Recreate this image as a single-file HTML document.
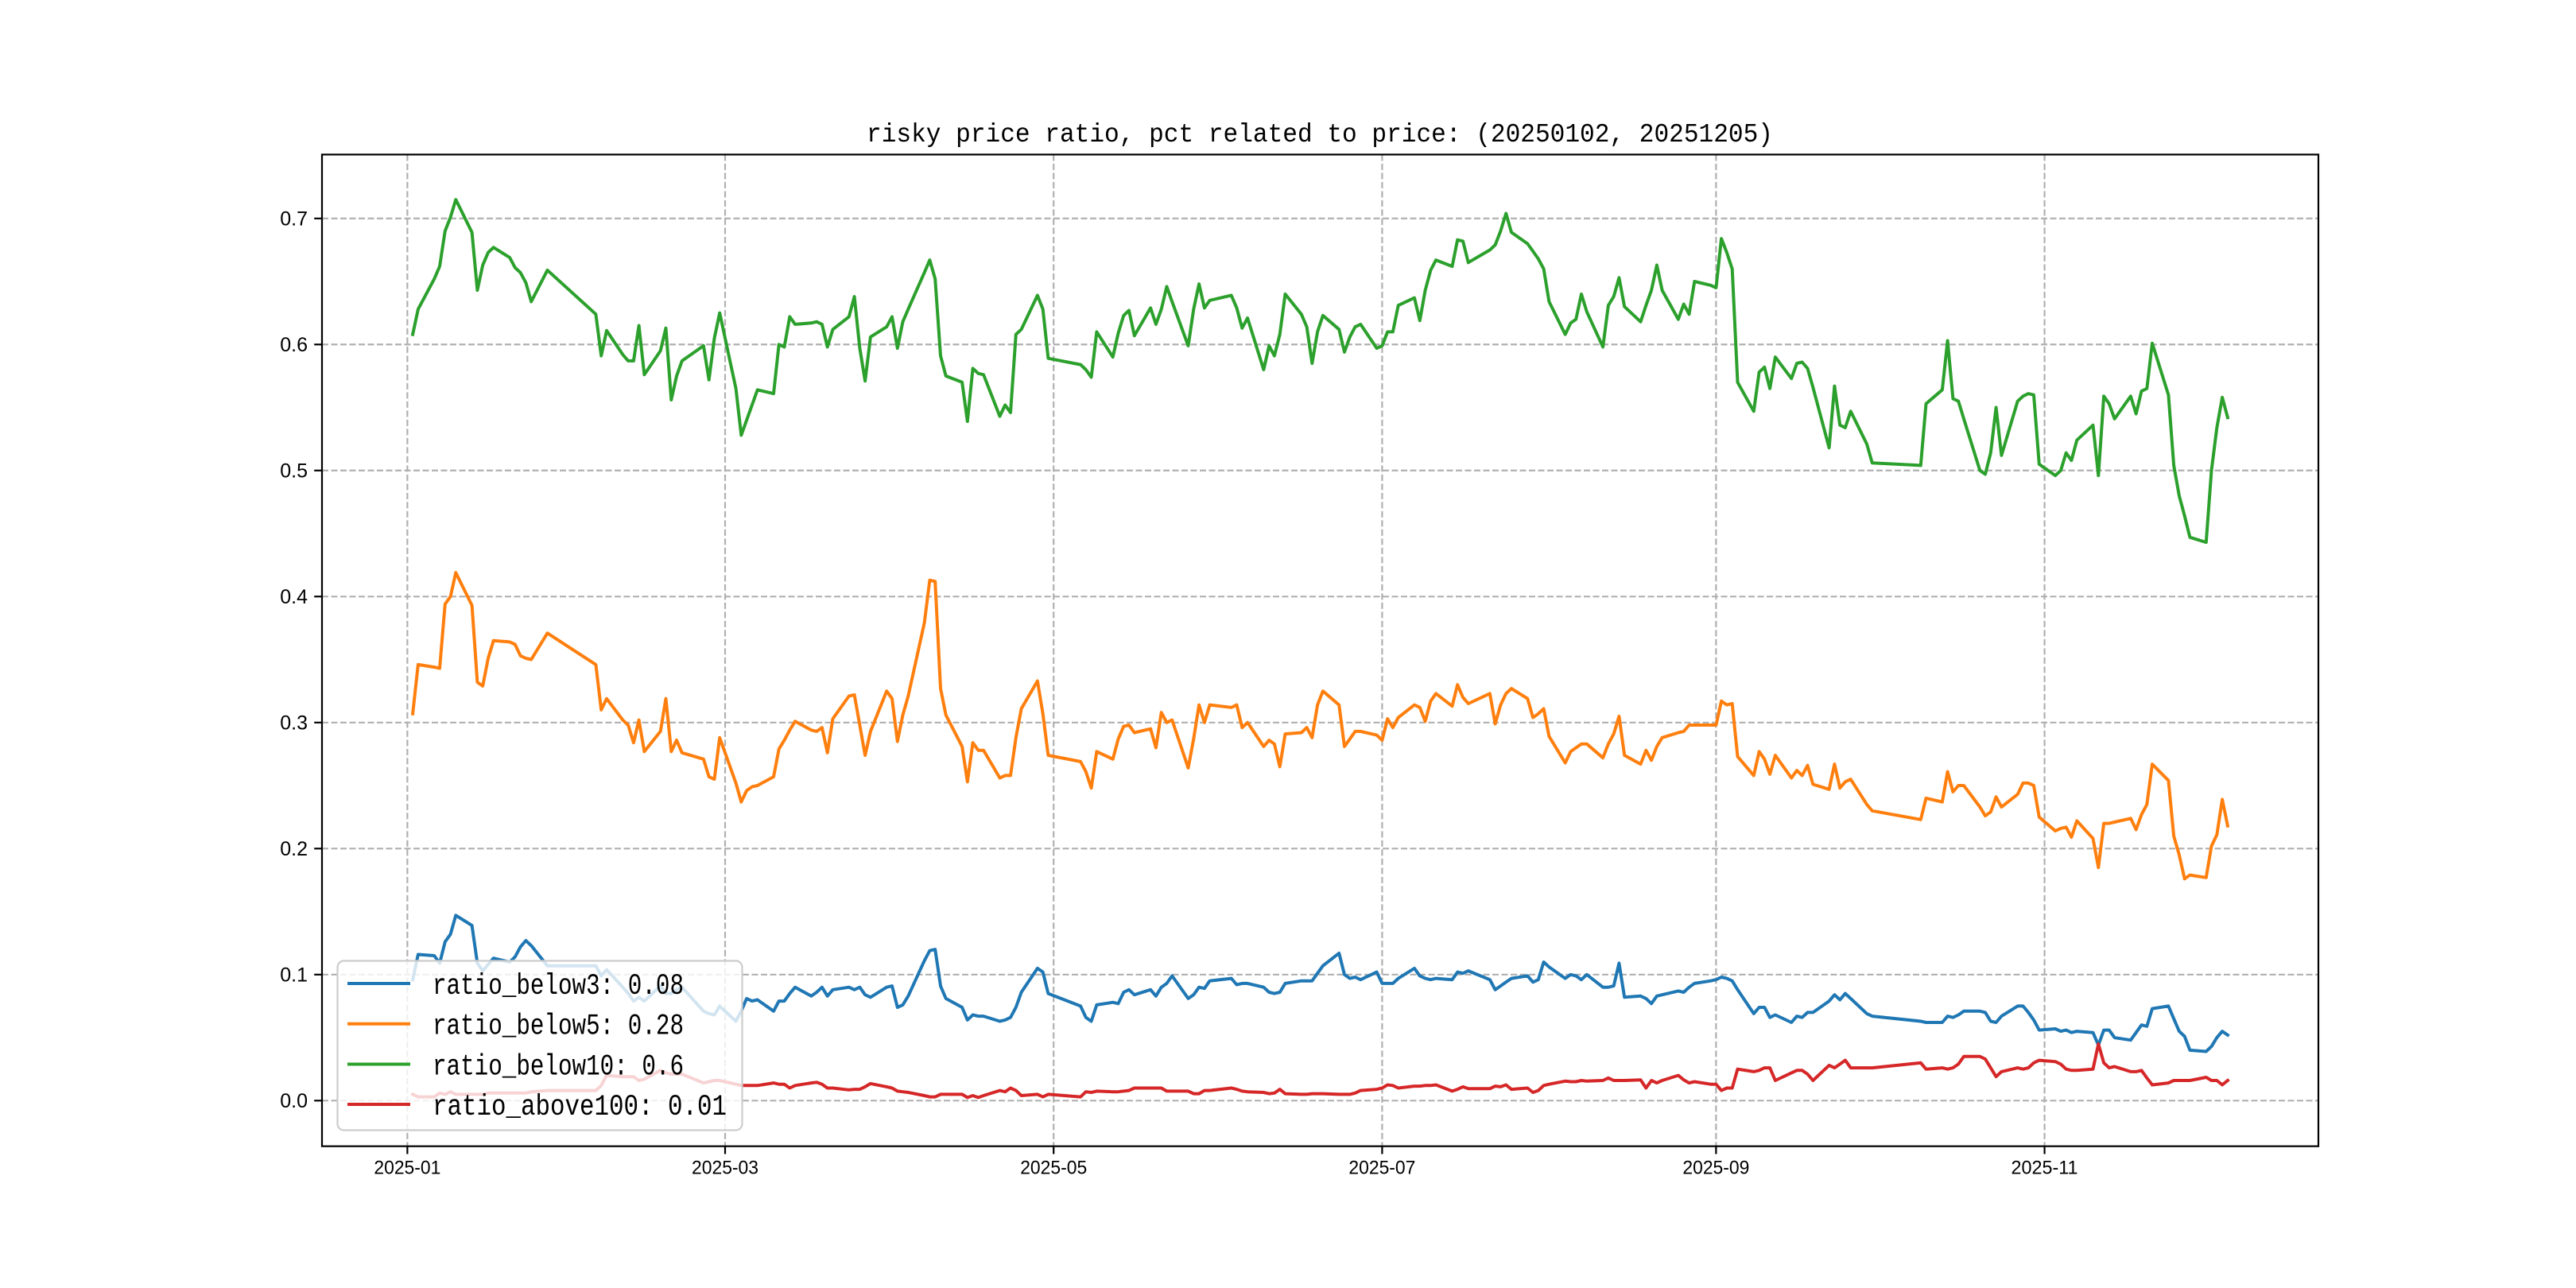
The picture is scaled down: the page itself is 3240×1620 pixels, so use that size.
<!DOCTYPE html>
<html><head><meta charset="utf-8"><title>risky price ratio</title>
<style>html,body{margin:0;padding:0;background:#fff;}svg{display:block;}</style></head>
<body>
<svg id="chart" width="3240" height="1620" viewBox="0 0 3240 1620" xmlns="http://www.w3.org/2000/svg">
<rect x="0" y="0" width="3240" height="1620" fill="#fff"/>
<text x="1660" y="178" text-anchor="middle" font-family="Liberation Mono, monospace" font-size="33" textLength="1140" lengthAdjust="spacingAndGlyphs">risky price ratio, pct related to price: (20250102, 20251205)</text>
<g id="grid"></g>
<g id="series"></g>
<g id="axes"></g>
<g id="legend"></g>
</svg>
<script>
// days since 2025-01-01 (trading days)
const days = [1,2,5,6,7,8,9,12,13,14,15,16,19,20,21,22,23,26,35,36,37,40,41,42,43,44,47,48,49,50,51,55,56,57,58,61,62,63,64,65,68,69,70,71,72,75,76,77,78,79,82,83,84,85,86,89,90,91,92,93,96,97,98,99,100,103,104,105,106,107,110,111,112,113,114,
117,118,119,125,126,127,128,131,132,133,134,135,138,139,140,141,142,145,146,147,148,149,153,154,155,156,159,160,161,162,163,166,167,168,169,170,173,174,175,176,177,180,181,182,183,184,187,188,189,190,191,194,195,196,197,201,202,203,204,205,208,209,210,211,212,215,216,217,218,219,222,223,224,225,226,229,230,231,
232,233,236,237,238,239,242,243,244,245,246,247,250,251,252,253,254,257,258,259,260,261,264,265,266,267,268,271,272,281,282,285,286,287,288,289,292,293,294,295,296,299,300,301,302,303,306,307,308,309,310,313,314,315,316,317,320,321,322,323,324,327,328,329,330,331,334,335,336,337,338];

const ratioBelow10 = [0.608,0.628,0.652,0.662,0.690,0.701,0.715,0.689,0.643,0.663,0.673,0.677,0.669,0.661,0.657,0.649,0.634,0.659,0.624,0.591,0.611,0.592,0.587,0.587,0.615,0.576,0.595,0.613,0.556,0.575,0.587,0.599,0.572,0.605,0.625,0.565,0.528,0.540,0.552,0.564,0.561,0.600,0.598,0.622,0.616,0.617,0.618,0.616,0.598,0.612,0.622,0.638,0.597,0.571,0.606,0.614,0.622,0.597,0.618,0.628,0.657,0.667,0.652,0.591,0.575,0.570,0.539,0.581,0.577,0.576,0.543,0.552,0.546,0.608,0.612,
0.639,0.628,0.589,0.584,0.580,0.574,0.610,0.590,0.609,0.623,0.627,0.607,0.629,0.616,0.628,0.646,0.634,0.599,0.628,0.648,0.629,0.635,0.639,0.629,0.613,0.621,0.580,0.599,0.591,0.608,0.640,0.624,0.614,0.585,0.610,0.623,0.612,0.594,0.606,0.614,0.616,0.597,0.599,0.610,0.610,0.631,0.637,0.619,0.643,0.659,0.667,0.662,0.683,0.682,0.665,0.675,0.679,0.690,0.704,0.689,0.680,0.674,0.668,0.660,0.634,0.608,0.617,0.620,0.640,0.626,0.598,0.631,0.638,0.653,0.630,0.618,0.631,0.643,
0.663,0.643,0.620,0.632,0.624,0.650,0.647,0.645,0.684,0.673,0.660,0.570,0.547,0.578,0.582,0.565,0.590,0.573,0.585,0.586,0.581,0.566,0.518,0.567,0.536,0.534,0.547,0.521,0.506,0.504,0.553,0.564,0.603,0.557,0.555,0.541,0.500,0.497,0.514,0.550,0.512,0.555,0.559,0.561,0.560,0.505,0.496,0.500,0.514,0.508,0.524,0.536,0.496,0.559,0.553,0.541,0.559,0.545,0.563,0.565,0.601,0.560,0.504,0.480,0.464,0.447,0.443,0.500,0.534,0.558,0.542];

const ratioBelow5 = [0.307,0.346,0.344,0.343,0.394,0.400,0.419,0.393,0.332,0.329,0.351,0.365,0.364,0.362,0.353,0.351,0.350,0.371,0.346,0.310,0.319,0.302,0.298,0.284,0.302,0.277,0.293,0.319,0.277,0.286,0.276,0.271,0.257,0.255,0.288,0.252,0.237,0.246,0.249,0.250,0.257,0.279,0.286,0.294,0.301,0.294,0.293,0.296,0.276,0.303,0.321,0.322,0.298,0.274,0.293,0.325,0.319,0.285,0.306,0.321,0.379,0.413,0.412,0.327,0.306,0.281,0.253,0.284,0.278,0.278,0.256,0.258,0.258,0.288,0.311,
0.333,0.307,0.274,0.269,0.261,0.248,0.277,0.271,0.287,0.297,0.298,0.292,0.295,0.280,0.308,0.300,0.302,0.264,0.287,0.314,0.300,0.314,0.312,0.314,0.296,0.300,0.281,0.286,0.283,0.265,0.291,0.292,0.296,0.288,0.314,0.325,0.314,0.281,0.287,0.293,0.293,0.290,0.286,0.303,0.296,0.304,0.314,0.312,0.301,0.317,0.323,0.313,0.330,0.320,0.315,0.323,0.299,0.314,0.323,0.327,0.319,0.304,0.307,0.311,0.289,0.268,0.277,0.280,0.283,0.283,0.272,0.283,0.291,0.305,0.274,0.267,0.278,0.270,
0.281,0.288,0.292,0.293,0.298,0.298,0.298,0.298,0.317,0.314,0.315,0.273,0.258,0.277,0.271,0.259,0.274,0.256,0.262,0.258,0.266,0.251,0.247,0.267,0.248,0.253,0.255,0.235,0.230,0.223,0.240,0.237,0.261,0.245,0.250,0.250,0.233,0.226,0.229,0.241,0.233,0.243,0.252,0.252,0.250,0.225,0.214,0.216,0.217,0.209,0.222,0.208,0.185,0.220,0.220,0.221,0.224,0.215,0.227,0.235,0.267,0.254,0.210,0.195,0.176,0.179,0.177,0.202,0.211,0.239,0.218];

const ratioBelow3 = [0.096,0.116,0.115,0.109,0.126,0.132,0.147,0.139,0.109,0.103,0.108,0.113,0.110,0.114,0.122,0.127,0.123,0.107,0.107,0.099,0.104,0.090,0.085,0.079,0.082,0.079,0.091,0.085,0.085,0.088,0.090,0.071,0.069,0.068,0.075,0.063,0.071,0.081,0.079,0.080,0.071,0.079,0.079,0.085,0.090,0.083,0.086,0.090,0.083,0.088,0.090,0.088,0.090,0.084,0.082,0.090,0.091,0.074,0.076,0.083,0.111,0.119,0.120,0.091,0.081,0.074,0.064,0.068,0.067,0.067,0.063,0.064,0.066,0.074,0.086,
0.105,0.102,0.085,0.075,0.066,0.063,0.076,0.078,0.077,0.086,0.088,0.084,0.088,0.083,0.090,0.093,0.099,0.081,0.084,0.090,0.089,0.095,0.097,0.092,0.093,0.093,0.090,0.086,0.085,0.086,0.093,0.095,0.095,0.095,0.101,0.107,0.117,0.100,0.097,0.098,0.096,0.102,0.093,0.093,0.093,0.097,0.105,0.099,0.097,0.096,0.097,0.096,0.102,0.101,0.103,0.096,0.088,0.091,0.094,0.097,0.099,0.094,0.096,0.110,0.106,0.097,0.100,0.099,0.096,0.100,0.090,0.090,0.091,0.109,0.082,0.083,0.081,0.077,
0.083,0.084,0.087,0.086,0.090,0.093,0.095,0.096,0.098,0.097,0.095,0.088,0.069,0.074,0.074,0.066,0.068,0.062,0.067,0.066,0.070,0.070,0.079,0.084,0.080,0.085,0.081,0.069,0.067,0.063,0.062,0.062,0.067,0.066,0.068,0.071,0.071,0.070,0.063,0.062,0.067,0.075,0.075,0.070,0.064,0.056,0.057,0.055,0.056,0.054,0.055,0.054,0.044,0.056,0.056,0.050,0.048,0.054,0.060,0.059,0.073,0.075,0.065,0.055,0.051,0.040,0.039,0.043,0.050,0.055,0.052];

const ratioAbove100 = [0.005,0.003,0.003,0.006,0.005,0.007,0.005,0.005,0.005,0.005,0.006,0.006,0.006,0.006,0.006,0.006,0.007,0.008,0.008,0.012,0.020,0.019,0.019,0.019,0.016,0.017,0.024,0.022,0.021,0.021,0.021,0.014,0.015,0.016,0.016,0.013,0.012,0.012,0.012,0.012,0.014,0.013,0.013,0.010,0.012,0.014,0.0145,0.013,0.010,0.010,0.0085,0.009,0.009,0.011,0.0135,0.011,0.010,0.0075,0.007,0.0065,0.004,0.003,0.003,0.005,0.005,0.005,0.0025,0.004,0.0025,0.004,0.008,0.007,0.010,0.008,0.004,
0.005,0.003,0.005,0.003,0.007,0.0065,0.0075,0.007,0.007,0.0075,0.008,0.010,0.010,0.010,0.010,0.0075,0.0075,0.0075,0.0055,0.0055,0.008,0.008,0.010,0.009,0.0075,0.007,0.0065,0.0055,0.006,0.009,0.0055,0.005,0.005,0.0055,0.0055,0.0055,0.005,0.005,0.005,0.006,0.008,0.009,0.010,0.0125,0.012,0.010,0.0115,0.0115,0.012,0.012,0.0125,0.0075,0.009,0.011,0.0095,0.0095,0.0115,0.011,0.0125,0.009,0.010,0.0065,0.008,0.012,0.013,0.0155,0.015,0.015,0.016,0.0155,0.016,0.018,0.016,0.016,0.016,0.0165,0.010,0.016,
0.014,0.016,0.020,0.0165,0.014,0.015,0.013,0.013,0.008,0.010,0.010,0.025,0.023,0.024,0.026,0.026,0.016,0.022,0.024,0.024,0.021,0.016,0.028,0.026,0.029,0.032,0.026,0.026,0.026,0.030,0.025,0.026,0.025,0.026,0.029,0.035,0.035,0.033,0.026,0.019,0.023,0.026,0.025,0.026,0.030,0.032,0.031,0.029,0.025,0.024,0.024,0.025,0.045,0.030,0.026,0.027,0.023,0.023,0.024,0.018,0.0125,0.014,0.016,0.016,0.016,0.016,0.0185,0.016,0.016,0.0125,0.016];

const seriesNames = ["ratio_below3","ratio_below5","ratio_below10","ratio_above100"];
const legendValues = ["0.08","0.28","0.6","0.01"];
const yTicks = [0.0,0.1,0.2,0.3,0.4,0.5,0.6,0.7];
const xTickDays = [0,59,120,181,243,304];
const xTickLabels = ["2025-01","2025-03","2025-05","2025-07","2025-09","2025-11"];

const NS = "http://www.w3.org/2000/svg";
const L = 405, R = 2916, T = 194.4, B = 1441.7;
const xMin = -15.85, xMax = 354.85, yMin = -0.0362, yMax = 0.7507;
function xs(d){ return L + (d - xMin) / (xMax - xMin) * (R - L); }
function ys(v){ return B - (v - yMin) / (yMax - yMin) * (B - T); }
function mk(tag, attrs, parent){ const e = document.createElementNS(NS, tag); for (const k in attrs) e.setAttribute(k, attrs[k]); parent.appendChild(e); return e; }

const grid = document.getElementById('grid');
const axes = document.getElementById('axes');
const seriesG = document.getElementById('series');
const legend = document.getElementById('legend');

yTicks.forEach(function(v){
  const y = ys(v);
  const gl = mk('line', {x1:L, x2:R, y1:y, y2:y, stroke:'#b0b0b0', 'stroke-width':2.2, 'stroke-dasharray':'8,3.5'}, grid);
  
  
  const tk = mk('line', {x1:L-9.8, x2:L, y1:y, y2:y, stroke:'#000', 'stroke-width':2.2}, axes);
  
  
  const tx = mk('text', {x:L-18, y:y+8.5, 'text-anchor':'end', 'font-family':'Liberation Sans, sans-serif', 'font-size':25}, axes);
  tx.textContent = v.toFixed(1);
  
  
});
xTickDays.forEach(function(d, i){
  const x = xs(d);
  const gl = mk('line', {x1:x, x2:x, y1:T, y2:B, stroke:'#b0b0b0', 'stroke-width':2.2, 'stroke-dasharray':'8,3.5'}, grid);
  
  
  const tk = mk('line', {x1:x, x2:x, y1:B, y2:B+9.8, stroke:'#000', 'stroke-width':2.2}, axes);
  
  
  const tx = mk('text', {x:x, y:B+35, 'text-anchor':'middle', 'font-family':'Liberation Sans, sans-serif', 'font-size':24, textLength:84, lengthAdjust:'spacingAndGlyphs'}, axes);
  tx.textContent = xTickLabels[i];
  
  
});
const frame = mk('rect', {x:L, y:T, width:R-L, height:B-T, fill:'none', stroke:'#000', 'stroke-width':2.2}, axes);



const colors = ['#1f77b4','#ff7f0e','#2ca02c','#d62728'];
const allSeries = [ratioBelow3, ratioBelow5, ratioBelow10, ratioAbove100];
allSeries.forEach(function(vals, si){
  let dstr = '';
  for (let i = 0; i < days.length; i++) dstr += (i ? 'L' : 'M') + xs(days[i]).toFixed(1) + ',' + ys(vals[i]).toFixed(1);
  const p = mk('path', {d:dstr, fill:'none', stroke:colors[si], 'stroke-width':4, 'stroke-linejoin':'round', 'stroke-linecap':'square'}, seriesG);
  
  
});

const box = mk('rect', {x:424.5, y:1208.5, width:509, height:213, rx:8, ry:8, fill:'rgba(255,255,255,0.8)', stroke:'#cccccc', 'stroke-width':2.2}, legend);


const rowY = [1237, 1287.7, 1338.5, 1389];
const textW = [316, 316, 316, 370];
seriesNames.forEach(function(n, i){
  const ln = mk('line', {x1:437, x2:516, y1:rowY[i], y2:rowY[i], stroke:colors[i], 'stroke-width':4}, legend);
  
  
  const tx = mk('text', {x:544, y:rowY[i]+13, 'font-family':'Liberation Mono, monospace', 'font-size':37, textLength:textW[i], lengthAdjust:'spacingAndGlyphs'}, legend);
  tx.textContent = n + ': ' + legendValues[i];
  
  
});
</script>
</body></html>
